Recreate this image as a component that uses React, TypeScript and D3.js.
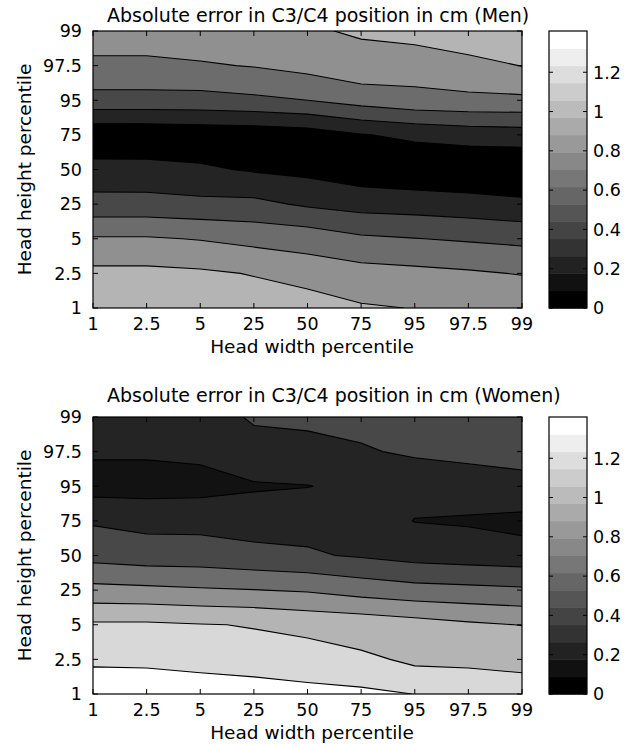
import React from "react";
import * as d3 from "d3";

// percentile categories on both axes
const widthPercentiles = ["1", "2.5", "5", "25", "50", "75", "95", "97.5", "99"];
const heightPercentiles = ["1", "2.5", "5", "25", "50", "75", "95", "97.5", "99"];

// absolute error (cm), one row per head height percentile (1 -> 99),
// one column per head width percentile (1 -> 99)
const menError = [
  [1.1, 1.1, 1.1, 1.1, 1.115, 1.02, 0.995, 0.95, 0.98],
  [1.05, 1.05, 1.03, 0.99, 0.906, 0.874, 0.852, 0.825, 0.79],
  [0.82, 0.82, 0.79, 0.74, 0.717, 0.634, 0.605, 0.578, 0.55],
  [0.47, 0.47, 0.45, 0.45, 0.372, 0.322, 0.308, 0.281, 0.244],
  [0.27, 0.265, 0.23, 0.18, 0.146, 0.08, 0.045, 0.03, 0.02],
  [0.04, 0.045, 0.065, 0.07, 0.1, 0.19, 0.24, 0.28, 0.3],
  [0.53, 0.53, 0.53, 0.56, 0.6, 0.68, 0.74, 0.76, 0.76],
  [0.76, 0.76, 0.78, 0.81, 0.863, 0.935, 0.894, 0.927, 1.005],
  [0.9, 0.9, 0.93, 0.95, 0.98, 1.02, 1.07, 1.16, 1.12],
];

const womenError = [
  [1.39, 1.39, 1.38, 1.34, 1.31, 1.318, 1.299, 1.27, 1.26],
  [1.275, 1.27, 1.25, 1.259, 1.28, 1.227, 1.177, 1.177, 1.162],
  [1.229, 1.231, 1.208, 1.192, 1.15, 1.126, 1.082, 1.031, 0.995],
  [0.862, 0.846, 0.823, 0.805, 0.78, 0.718, 0.672, 0.652, 0.631],
  [0.531, 0.495, 0.49, 0.452, 0.42, 0.381, 0.328, 0.307, 0.286],
  [0.379, 0.342, 0.34, 0.319, 0.34, 0.3, 0.195, 0.178, 0.135],
  [0.12, 0.12, 0.13, 0.177, 0.195, 0.24, 0.26, 0.307, 0.385],
  [0.225, 0.225, 0.243, 0.354, 0.34, 0.38, 0.43, 0.45, 0.417],
  [0.3, 0.3, 0.34, 0.415, 0.44, 0.46, 0.5, 0.52, 0.5],
];

const menLevels = [0, 0.2, 0.4, 0.6, 0.8, 1.0];
const womenLevels = [0.1, 0.2, 0.4, 0.6, 0.8, 1.0, 1.2, 1.3];

const colorbarTicks = [0, 0.2, 0.4, 0.6, 0.8, 1, 1.2];
const colorbarMax = 1.41;
const colorbarSteps = 16;

const FONT = "'DejaVu Sans', Verdana, sans-serif";

// fill for the band starting at a level
const levelColor = d3
  .scaleLinear<string>()
  .domain([0, 1.2, 1.3])
  .range(["#000000", "#d8d8d8", "#ffffff"])
  .clamp(true);

const grayRamp = d3.interpolateRgb("#000000", "#ffffff");

function Panel({ title, grid, levels, top, titleY }) {
  const left = 93;
  const right = 522;
  const bottom = top + 277;
  const n = widthPercentiles.length;
  const m = heightPercentiles.length;
  const clipId = "clip" + top;

  // contour grid coords -> pixels (grid centres sit at i + 0.5)
  const gx = d3.scaleLinear().domain([0.5, n - 0.5]).range([left, right]);
  const gy = d3.scaleLinear().domain([0.5, m - 0.5]).range([bottom, top]);
  const xAxis = d3.scalePoint().domain(widthPercentiles).range([left, right]);
  const yAxis = d3.scalePoint().domain(heightPercentiles).range([bottom, top]);

  const values = grid.flat();
  const bands = d3.contours().size([n, m]).thresholds(levels)(values);
  const path = d3.geoPath(
    d3.geoTransform({
      point(px, py) {
        this.stream.point(gx(px), gy(py));
      },
    })
  );

  const cbLeft = 549;
  const cbRight = 587;
  const cb = d3.scaleLinear().domain([0, colorbarMax]).range([bottom, top]);
  const step = colorbarMax / colorbarSteps;
  const tick = 5;

  return (
    <g fontFamily={FONT} fill="#000">
      <text x={107} y={titleY} fontSize={19}>
        {title}
      </text>
      <defs>
        <clipPath id={clipId}>
          <rect x={left} y={top} width={right - left} height={bottom - top} />
        </clipPath>
      </defs>
      <g clipPath={`url(#${clipId})`}>
        {bands.map((b, i) => (
          <path
            key={i}
            d={path(b) || ""}
            fill={levelColor(b.value)}
            stroke="#000"
            strokeWidth={1.1}
          />
        ))}
      </g>
      {/* ticks inside the box on all sides */}
      {widthPercentiles.map((p) => (
        <g key={"xt" + p} stroke="#000" strokeWidth={1}>
          <line x1={xAxis(p)} x2={xAxis(p)} y1={bottom} y2={bottom - tick} />
          <line x1={xAxis(p)} x2={xAxis(p)} y1={top} y2={top + tick} />
        </g>
      ))}
      {heightPercentiles.map((p) => (
        <g key={"yt" + p} stroke="#000" strokeWidth={1}>
          <line x1={left} x2={left + tick} y1={yAxis(p)} y2={yAxis(p)} />
          <line x1={right} x2={right - tick} y1={yAxis(p)} y2={yAxis(p)} />
        </g>
      ))}
      <rect
        x={left}
        y={top}
        width={right - left}
        height={bottom - top}
        fill="none"
        stroke="#000"
        strokeWidth={1.2}
      />
      {widthPercentiles.map((p) => (
        <text key={"xl" + p} x={xAxis(p)} y={bottom + 22} fontSize={17.5} textAnchor="middle">
          {p}
        </text>
      ))}
      {heightPercentiles.map((p) => (
        <text key={"yl" + p} x={82} y={yAxis(p)} dy="0.36em" fontSize={17.5} textAnchor="end">
          {p}
        </text>
      ))}
      <text x={312} y={bottom + 45} fontSize={18.5} textAnchor="middle">
        Head width percentile
      </text>
      <text
        transform={`translate(31,${(top + bottom) / 2}) rotate(-90)`}
        fontSize={18.5}
        textAnchor="middle"
      >
        Head height percentile
      </text>

      {/* colorbar */}
      {d3.range(colorbarSteps).map((k) => (
        <rect
          key={"cb" + k}
          x={cbLeft}
          y={cb((k + 1) * step)}
          width={cbRight - cbLeft}
          height={cb(k * step) - cb((k + 1) * step) + 0.5}
          fill={grayRamp(k / (colorbarSteps - 1))}
        />
      ))}
      {colorbarTicks.map((t) => (
        <g key={"cbt" + t}>
          <line x1={cbLeft} x2={cbLeft + 4} y1={cb(t)} y2={cb(t)} stroke="#000" />
          <line x1={cbRight} x2={cbRight - 4} y1={cb(t)} y2={cb(t)} stroke="#000" />
          <text x={593} y={cb(t)} dy="0.36em" fontSize={17.5}>
            {t}
          </text>
        </g>
      ))}
      <rect
        x={cbLeft}
        y={top}
        width={cbRight - cbLeft}
        height={bottom - top}
        fill="none"
        stroke="#000"
        strokeWidth={1.2}
      />
    </g>
  );
}

export default function App() {
  return (
    <svg
      width={631}
      height={744}
      style={{ position: "absolute", left: 0, top: 0, background: "#fff" }}
    >
      <rect width={631} height={744} fill="#fff" />
      <Panel
        title="Absolute error in C3/C4 position in cm (Men)"
        grid={menError}
        levels={menLevels}
        top={31}
        titleY={22}
      />
      <Panel
        title="Absolute error in C3/C4 position in cm (Women)"
        grid={womenError}
        levels={womenLevels}
        top={417}
        titleY={402}
      />
    </svg>
  );
}
